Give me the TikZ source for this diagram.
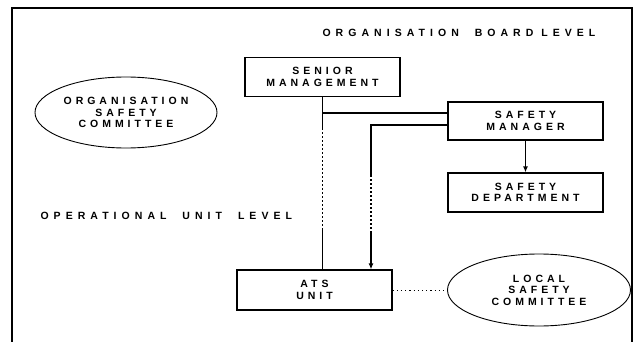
\documentclass[tikz,border=0pt]{standalone}
\usepackage{fontspec}
\setmainfont{Liberation Sans}[LetterSpace=38]
\usepackage{tikz}
\usetikzlibrary{shapes.geometric,positioning,arrows.meta}

\begin{document}
\begin{tikzpicture}[x=1pt,y=-1pt,on grid,
  every node/.style={font=\fontsize{10.5}{11.5}\selectfont\bfseries},
  level/.style={font=\fontsize{10.5}{11.5}\selectfont\bfseries\addfontfeature{LetterSpace=48}},
  unit/.style={draw,line width=1.2pt,minimum width=155pt,minimum height=39pt,align=center,inner sep=0pt},
  committee/.style={ellipse,draw,line width=0.9pt,minimum width=182pt,minimum height=71pt,align=center,inner sep=0pt},
  link/.style={line width=1.3pt},
  dots/.style={line width=1.8pt,dash pattern=on 2pt off 2pt},
  tip/.style={-{Latex[length=6pt,width=5pt]}}]
  \useasboundingbox (0,0) rectangle (636,342);
  \draw[line width=1.4pt] (12,342) -- (12,8) -- (632,8) -- (632,342);

  \node[level,anchor=west] (board) at (319,33) {ORGANISATION\ \ BOARD LEVEL};
  \node[level,anchor=west] (oper) at (37,216) {OPERATIONAL\ \ UNIT\ \ LEVEL};

  \node[unit] (sen) at (322.5,77) {SENIOR\\MANAGEMENT};
  \node[unit,minimum height=38pt] (sm) [below right=44pt and 203pt of sen] {SAFETY\\MANAGER};
  \node[unit] (sd) [below=71.5pt of sm] {SAFETY\\DEPARTMENT};
  \node[unit,minimum height=40pt] (ats) [below left=213pt and 8pt of sen] {ATS\\UNIT};
  \node[committee] (osc) [below left=35.5pt and 196.5pt of sen] {ORGANISATION\\SAFETY\\COMMITTEE};
  \node[committee,minimum width=183pt,minimum height=72pt] (lsc) [right=224.5pt of ats] {LOCAL\\SAFETY\\COMMITTEE};

  \coordinate (a1) at (sen.south |- 0,128);
  \coordinate (a2) at (sen.south |- 0,228);
  \coordinate (b0) at (371,125);
  \coordinate (b1) at (371,175);
  \coordinate (b2) at (371,232);

  \draw[link] (sen.south) -- (a1);
  \draw[dots] (a1) -- (a2);
  \draw[link] (a2) -- (a2 |- ats.north);
  \draw[link] ([yshift=8pt]sm.west) -- (sen.south |- 0,113);
  \draw[link] ([yshift=-4pt]sm.west) -- (b0) -- (b1);
  \draw[dots] (b1) -- (b2);
  \draw[link,tip] (b2) -- (b2 |- ats.north);
  \draw[link,tip] (sm) -- (sd);
  \draw[dots,line width=1pt,dash pattern=on 1.2pt off 3pt] (ats) -- (lsc);
\end{tikzpicture}
\end{document}
